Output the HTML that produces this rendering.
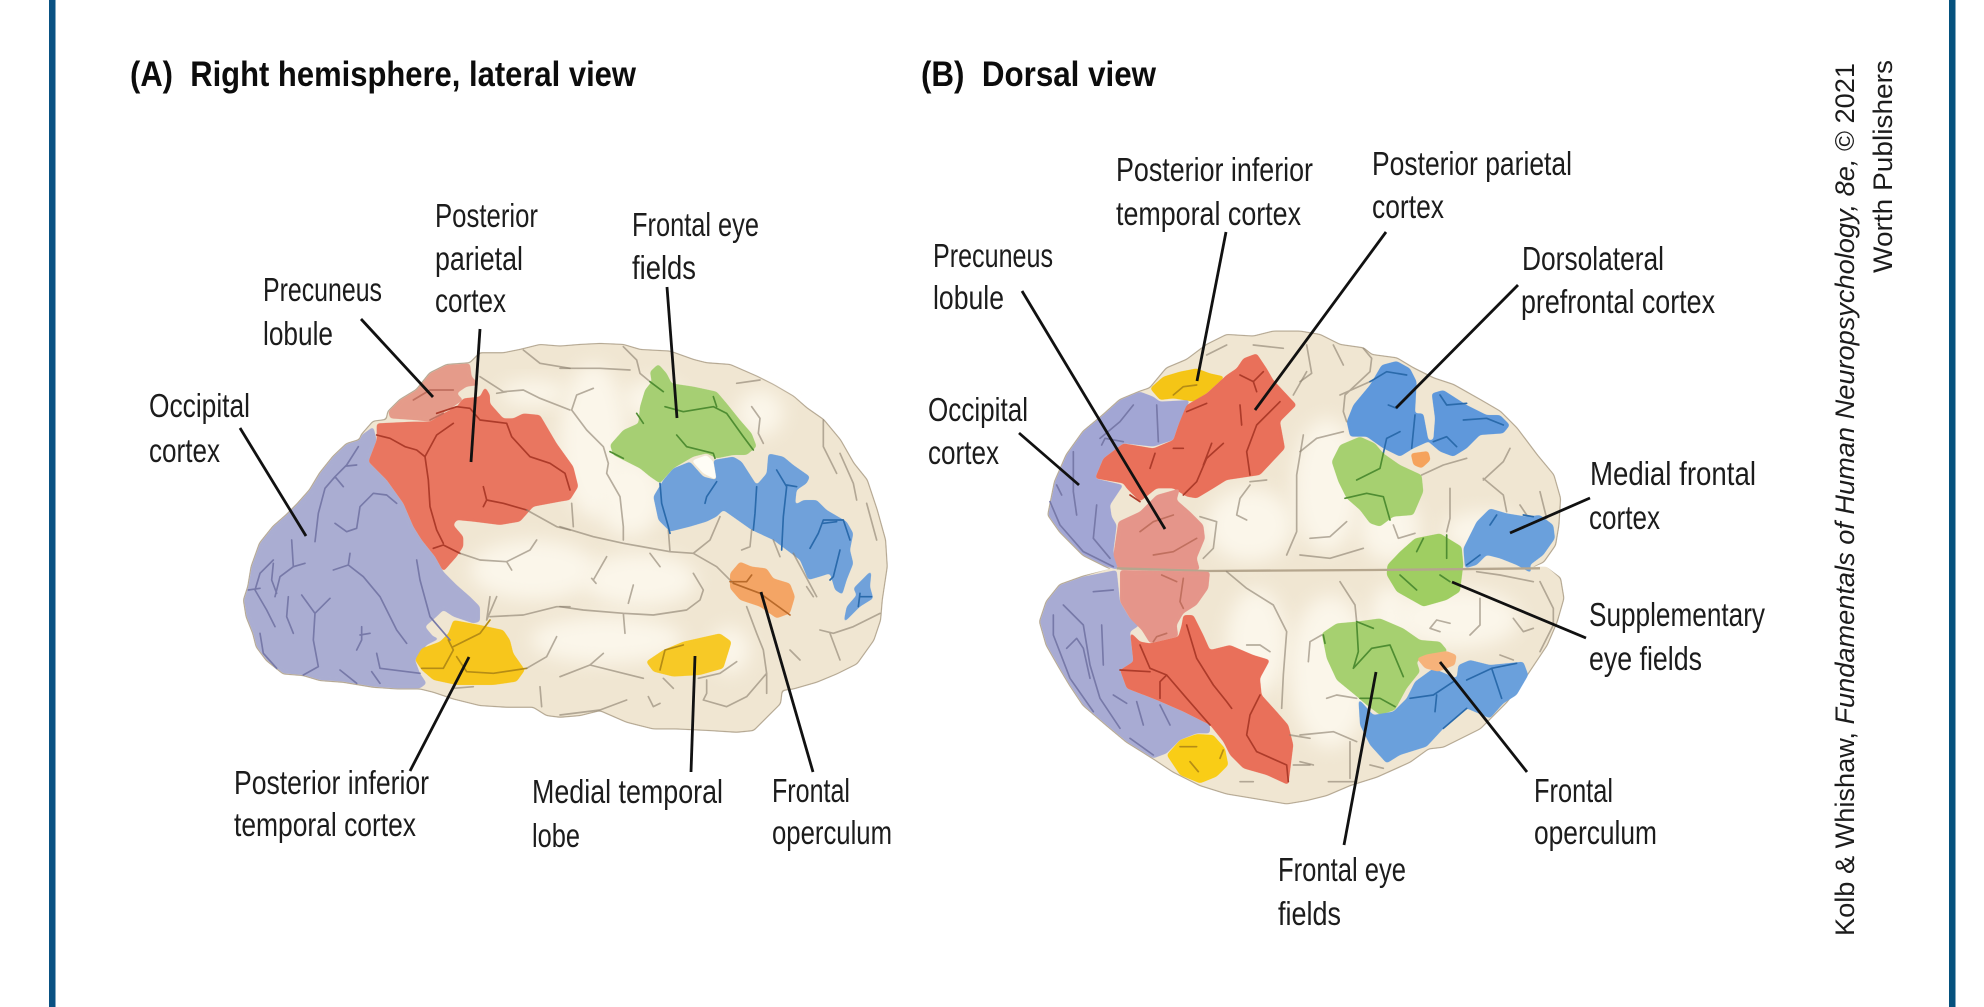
<!DOCTYPE html>
<html><head><meta charset="utf-8"><style>
html,body{margin:0;padding:0;background:#fff;width:1984px;height:1007px;overflow:hidden}
svg{display:block}
.t{font-family:"Liberation Sans Narrow","Liberation Sans",sans-serif;font-size:33px;fill:#1c1c1c}
.h{font-family:"Liberation Sans Narrow","Liberation Sans",sans-serif;font-weight:bold;font-size:35px;fill:#0c0c0c}
.c{font-family:"Liberation Sans",sans-serif;font-size:27px;fill:#1c1c1c}
.l{stroke:#111;stroke-width:2.8;fill:none;stroke-linecap:butt}
polygon{filter:url(#goo)}
ellipse{filter:url(#soft)}
.u{filter:url(#tiny);fill:none;stroke-width:5;stroke-linejoin:round;stroke-linecap:round}
.s{stroke:#8a806e;stroke-opacity:.62}
.sp{stroke:#7779a8}
.sr{stroke:#ad3b29}
.sg{stroke:#4f8d33}
.sb{stroke:#2c6bab}
.sy{stroke:#b58c12}
.so{stroke:#b96a2c}
.sk{stroke:#c06f5e}
</style></head><body>
<svg width="1984" height="1007" viewBox="0 0 1984 1007" xmlns="http://www.w3.org/2000/svg">
<defs>
<filter id="goo" x="-10%" y="-10%" width="120%" height="120%"><feGaussianBlur stdDeviation="4.5"/><feColorMatrix type="matrix" values="1 0 0 0 0 0 1 0 0 0 0 0 1 0 0 0 0 0 7 -3"/></filter>
<filter id="soft" x="-40%" y="-40%" width="180%" height="180%"><feGaussianBlur stdDeviation="28"/></filter>
<filter id="tiny" filterUnits="userSpaceOnUse" x="-200" y="-200" width="2500" height="2000"><feGaussianBlur stdDeviation="1.1"/></filter>
</defs>
<rect width="1984" height="1007" fill="#fff"/>
<rect x="49" y="0" width="6.5" height="1007" fill="#0a5283"/>
<rect x="1949" y="0" width="6.5" height="1007" fill="#05527e"/>

<!-- ============ Brain A ============ -->
<g transform="translate(240,340) scale(.33333)">
<polygon fill="#b5a893" stroke="#b5a893" stroke-width="7" points="720,40 790,40 840,30 900,15 960,20 1020,15 1080,12 1150,15 1200,30 1290,35 1360,60 1400,70 1470,75 1550,110 1600,135 1660,170 1700,205 1750,240 1800,300 1840,370 1880,420 1910,510 1935,600 1940,680 1925,780 1920,840 1900,900 1850,970 1790,1000 1730,1025 1660,1045 1625,1050 1620,1090 1570,1140 1540,1170 1490,1175 1410,1170 1310,1165 1240,1165 1160,1145 1080,1110 1020,1125 960,1130 920,1125 880,1100 800,1100 720,1095 640,1075 580,1055 540,1045 470,1045 400,1040 310,1025 240,1020 190,1005 130,1000 80,960 50,920 40,880 20,830 12,780 25,740 35,680 60,610 100,560 140,525 170,495 210,450 240,400 280,350 320,312 360,300 365,285 400,245 440,240 445,215 480,180 530,150 570,100 620,75 690,70"/>
<polygon fill="#f0e6d2" points="720,40 790,40 840,30 900,15 960,20 1020,15 1080,12 1150,15 1200,30 1290,35 1360,60 1400,70 1470,75 1550,110 1600,135 1660,170 1700,205 1750,240 1800,300 1840,370 1880,420 1910,510 1935,600 1940,680 1925,780 1920,840 1900,900 1850,970 1790,1000 1730,1025 1660,1045 1625,1050 1620,1090 1570,1140 1540,1170 1490,1175 1410,1170 1310,1165 1240,1165 1160,1145 1080,1110 1020,1125 960,1130 920,1125 880,1100 800,1100 720,1095 640,1075 580,1055 540,1045 470,1045 400,1040 310,1025 240,1020 190,1005 130,1000 80,960 50,920 40,880 20,830 12,780 25,740 35,680 60,610 100,560 140,525 170,495 210,450 240,400 280,350 320,312 360,300 365,285 400,245 440,240 445,215 480,180 530,150 570,100 620,75 690,70"/>
<g fill="#fbf6ea">
<ellipse cx="880" cy="690" rx="190" ry="90"/>
<ellipse cx="1200" cy="720" rx="170" ry="80"/>
<ellipse cx="1100" cy="900" rx="230" ry="70"/>
<ellipse cx="1060" cy="300" rx="100" ry="230"/>
<ellipse cx="1170" cy="470" rx="100" ry="120"/>
<ellipse cx="1470" cy="930" rx="60" ry="70"/>
<ellipse cx="1560" cy="220" rx="70" ry="70"/>
<ellipse cx="1240" cy="180" rx="90" ry="60"/>
<ellipse cx="880" cy="160" rx="100" ry="40"/>
</g>
<!-- purple -->
<polygon fill="#aaadd2" points="400,260 365,285 360,300 320,312 280,350 240,400 210,450 170,495 140,525 100,560 60,610 35,680 25,740 12,780 20,830 40,880 50,920 80,960 130,1000 190,1005 240,1020 310,1025 400,1040 470,1045 540,1045 560,1030 540,1000 525,960 560,915 600,895 580,890 555,860 590,830 610,810 640,830 700,850 720,845 720,800 690,770 650,735 610,695 585,650 545,600 520,560 490,490 440,420 400,380 385,365 410,300"/>
<!-- pink -->
<polygon fill="#e59b8a" points="445,215 480,180 530,150 570,100 620,75 690,70 695,110 720,135 680,140 650,160 670,180 640,200 600,225 570,245 520,240 450,235"/>
<!-- red -->
<polygon fill="#e97660" points="410,250 520,245 570,245 610,220 650,200 670,175 720,170 735,140 750,165 750,190 790,235 820,235 850,220 900,225 950,310 1000,380 1015,440 990,480 960,485 880,500 840,545 780,555 700,545 650,540 640,555 670,590 670,620 650,650 610,695 585,650 545,600 520,560 490,490 440,420 400,380 385,365 410,300"/>
<!-- yellow 1 -->
<polygon fill="#f7c61d" points="640,840 720,855 790,870 810,900 820,940 855,990 830,1025 760,1035 650,1035 580,1020 545,990 525,960 545,925 600,905 625,880"/>
<path class="u sp" d="M355,320 320,375 285,410 255,445 235,520 225,605 M285,410 310,440 M320,378 350,375 M155,600 160,680 120,710 105,770 M100,660 60,700 45,750 80,810 105,860 M100,670 95,720 110,760 M195,670 160,680 M25,750 60,745 M285,550 320,575 350,565 360,500 400,460 440,465 470,490 M280,690 325,675 330,640 M325,675 370,710 420,770 470,870 500,910 M185,765 225,820 270,775 M225,820 220,900 235,980 190,1005 M145,770 140,830 160,880 M60,880 70,940 110,985 M365,860 365,900 350,930 M360,885 390,880 M410,940 420,985 540,1000 M300,990 350,1030 M395,995 420,1030 M530,660 540,720 570,830 630,900"/>
<path class="u sr" d="M410,285 450,295 495,320 530,330 555,350 565,420 570,500 590,570 610,610 M555,350 590,285 640,250 M590,220 650,200 690,205 720,240 800,250 815,290 870,350 930,370 975,400 990,450 M730,440 740,480 790,490 860,510 M740,480 730,500 M580,625 610,615 660,640"/>
<path class="u s" d="M660,640 720,660 800,665 870,630 890,600 M800,665 815,690 M860,510 950,560 990,570 M720,110 790,155 850,150 900,175 990,210 M800,155 770,160 M850,30 900,70 990,85 M750,770 740,840 770,770 M750,830 850,825 950,800 990,800 M900,1040 905,1100 M640,1045 700,1040"/>
<path class="u sk" d="M520,180 570,150 640,150 M570,240 610,220"/>
<path class="u sy" d="M625,900 640,930 610,985 545,985 M640,920 720,880 750,840 M650,950 680,995 760,1000 860,985"/>
<path class="u s" d="M860,985 920,950 950,890"/>
<g transform="translate(960,0)">
<polygon fill="#a6cf73" points="150,315 190,270 235,250 240,200 255,150 275,125 270,95 295,72 320,100 335,130 400,140 470,155 500,190 540,240 575,280 590,320 560,345 520,345 470,355 440,340 400,350 340,385 300,430 270,410 240,385 190,360 160,345"/>
<polygon fill="#fffdf6" points="395,362 440,345 460,365 470,420 430,400"/>
<polygon fill="#6fa1da" points="280,470 310,420 340,385 390,365 430,410 470,420 460,360 520,350 545,365 590,435 620,400 625,340 670,350 700,375 750,410 740,430 710,450 705,495 730,480 770,480 800,510 860,545 880,580 870,630 880,670 860,720 845,770 865,775 825,750 810,700 780,710 745,720 720,660 680,630 640,600 575,570 490,510 470,530 440,545 390,560 330,575 295,540"/>
<polygon fill="#6fa1da" points="935,690 930,740 940,775 900,800 850,850 860,800 890,765 880,745"/>
<polygon fill="#f4a565" points="510,700 540,665 575,680 620,685 640,715 690,730 705,770 690,820 650,835 600,800 540,780 510,745"/>
<polygon fill="#f7c925" points="258,965 310,930 370,905 480,880 515,905 490,985 420,1005 340,1010 280,995"/>
<path class="u s" d="M0,85 120,85 210,90 M190,20 230,60 240,100 270,125 M100,145 50,165 35,210 80,270 130,320 145,370 140,400 180,470 190,560 190,600 M35,490 40,560 M0,560 100,590 190,610 330,635 400,640 450,600 480,530 M330,635 325,570 M270,640 300,680 M400,640 470,680 520,730 M560,800 590,880 610,930 620,1000 620,1060 M0,800 70,810 190,820 280,825 380,810 420,780 430,750 400,700 M190,820 195,880 M205,790 220,735 M100,720 140,650 M95,715 108,730 M0,1010 90,975 130,940 M90,975 250,1015 M310,1015 340,1045 M440,1020 440,1060 430,1080 500,1100 560,1070 620,1000 M265,1070 280,1100 300,1090 M0,1125 120,1110 200,1080 M415,1015 480,1000 530,965 M575,200 600,235 595,280 610,310 M530,130 600,120 M790,240 790,320 830,400 M840,340 880,430 890,480 M920,490 950,600 M960,820 880,860 820,880 780,870 M810,880 840,960 M690,930 720,960 M760,770 740,740 M575,570 570,620 545,630 M640,600 660,650 M700,640 770,770"/>
<path class="u sg" d="M230,220 250,250 M270,125 310,155 M315,200 370,215 460,200 500,220 550,290 580,330 M350,285 380,320 460,340 465,355 M150,335 190,355 M460,170 470,200"/>
<path class="u sb" d="M300,430 305,490 325,560 330,580 M470,425 440,470 435,490 M590,440 585,520 580,570 M650,390 680,440 670,530 665,630 M680,435 710,440 M750,625 775,580 790,540 850,540 870,600 M790,550 830,545 M840,630 820,710 810,720 M900,760 895,800 M900,770 935,770"/>
<path class="u so" d="M510,725 560,725 575,705 M520,730 600,760 690,825"/>
<path class="u sy" d="M300,990 315,930 370,915"/>
</g>
</g>

<!-- ============ Brain B ============ -->
<g transform="translate(1040,325) scale(.33333)">
<polygon fill="#b5a893" stroke="#b5a893" stroke-width="7" points="25,570 45,470 80,390 130,320 190,270 240,225 300,200 330,190 380,130 440,105 500,60 560,30 640,35 700,20 780,20 840,30 900,60 970,70 995,90 1070,100 1120,130 1180,160 1240,180 1320,225 1380,260 1430,310 1490,390 1540,450 1560,520 1555,600 1545,660 1510,710 1440,740 1000,740 500,740 240,740 200,725 130,690 60,620"/>
<polygon fill="#b5a893" stroke="#b5a893" stroke-width="7" points="230,730 130,755 60,780 20,830 0,890 20,960 60,1030 90,1080 130,1140 200,1200 260,1250 340,1300 400,1340 480,1380 560,1405 680,1425 740,1435 800,1425 860,1410 930,1380 1010,1355 1110,1310 1165,1270 1210,1265 1320,1210 1400,1130 1460,1050 1520,960 1550,890 1570,820 1560,760 1520,730"/>
<polygon fill="#f0e6d2" points="25,570 45,470 80,390 130,320 190,270 240,225 300,200 330,190 380,130 440,105 500,60 560,30 640,35 700,20 780,20 840,30 900,60 970,70 995,90 1070,100 1120,130 1180,160 1240,180 1320,225 1380,260 1430,310 1490,390 1540,450 1560,520 1555,600 1545,660 1510,710 1440,745 1000,745 500,745 240,745 200,725 130,690 60,620"/>
<polygon fill="#f0e6d2" points="230,725 130,755 60,780 20,830 0,890 20,960 60,1030 90,1080 130,1140 200,1200 260,1250 340,1300 400,1340 480,1380 560,1405 680,1425 740,1435 800,1425 860,1410 930,1380 1010,1355 1110,1310 1165,1270 1210,1265 1320,1210 1400,1130 1460,1050 1520,960 1550,890 1570,820 1560,760 1520,725"/>
<g fill="#fbf6ea">
<ellipse cx="630" cy="600" rx="130" ry="110"/>
<ellipse cx="860" cy="480" rx="100" ry="200"/>
<ellipse cx="1050" cy="610" rx="90" ry="100"/>
<ellipse cx="1330" cy="620" rx="120" ry="60"/>
<ellipse cx="650" cy="950" rx="90" ry="160"/>
<ellipse cx="870" cy="1040" rx="120" ry="230"/>
<ellipse cx="1250" cy="880" rx="190" ry="90"/>
<ellipse cx="1050" cy="880" rx="60" ry="100"/>
</g>
<polygon fill="#f5c513" points="330,190 370,155 420,140 470,130 510,145 555,155 500,205 460,230 400,220 360,225"/>
<polygon fill="#a2a6d4" points="25,570 45,470 80,390 130,320 190,270 240,225 300,200 340,215 360,230 450,225 415,300 400,345 340,365 250,355 190,400 165,460 250,480 210,540 215,575 230,600 220,680 235,735 200,725 130,690 60,620"/>
<polygon fill="#e9705a" points="610,100 650,85 680,130 700,165 770,240 720,290 735,370 660,450 560,465 520,490 470,520 440,515 400,490 350,490 300,530 260,490 250,475 165,460 190,400 250,355 340,370 400,345 415,300 440,240 500,205 560,150 590,130"/>
<polygon fill="#e5958a" points="235,590 300,560 350,510 420,490 410,525 450,560 490,600 495,640 470,700 480,735 235,735 220,690"/>
<path class="u s" d="M790,330 770,450 770,540 770,620 740,690 M630,480 600,520 590,570 620,585 M680,465 630,470 M500,90 560,60 M640,60 730,70 M480,575 530,590 520,670 490,700 M760,210 800,140"/>
<path class="u sr" d="M600,150 640,170 650,200 M640,170 670,140 M600,240 605,300 M500,235 440,260 M720,230 650,300 620,380 630,450 M550,355 500,400 470,470 430,510 M515,355 490,420 M345,385 330,430 M400,370 430,370 M270,510 300,530"/>
<path class="u sp" d="M280,240 240,290 180,340 M350,240 355,350 M30,530 60,600 130,680 220,725 M100,380 100,500 110,570 M50,480 65,510 M170,540 160,640 210,700 M250,350 195,340 185,360"/>
<path class="u sk" d="M300,620 340,590 400,570 M340,690 400,680 470,640"/>
<path class="u sy" d="M400,210 430,185 470,180"/>
<g transform="translate(780,0)">
<polygon fill="#5f98db" points="140,290 160,240 210,180 245,120 290,108 330,130 350,170 345,265 370,265 385,345 400,345 405,280 395,205 430,195 500,240 560,270 600,270 630,300 610,325 540,330 500,370 460,395 420,380 385,350 340,370 300,395 250,370 200,335 150,335"/>
<polygon fill="#f5a35c" points="332,385 385,378 392,405 365,430 340,420"/>
<polygon fill="#a6d070" points="95,410 120,360 180,335 225,355 250,385 300,420 365,450 370,500 340,570 280,575 240,605 210,595 180,555 140,520 115,470"/>
<polygon fill="#9fce62" points="262,720 300,680 345,640 420,625 485,665 490,720 480,800 440,825 370,845 290,800 260,750"/>
<polygon fill="#6ba0dc" points="490,670 530,590 570,550 620,565 680,575 720,570 760,600 765,640 730,690 690,720 695,745 650,720 600,700 560,690 530,720 495,730"/>
<path class="u s" d="M120,210 210,170 M20,60 35,145 0,170 M100,60 130,120 M190,70 215,100 210,140 135,210 130,260 140,290 M0,380 50,340 130,320 M550,465 610,410 630,370 M550,460 610,510 620,560 M450,490 450,580 440,620 M365,450 430,420 500,400 M280,600 295,640 345,625 M30,640 90,635 140,590 M0,690 90,700 190,670 M720,500 740,580 M660,540 680,570"/>
<path class="u sb" d="M210,170 260,140 320,150 M265,240 290,250 M250,385 260,340 300,320 M345,270 335,370 M420,210 440,240 500,235 M490,285 560,280 610,300 M400,350 440,335 470,365 M590,570 570,600 M670,570 700,575 M500,720 540,690"/>
<path class="u sg" d="M170,465 240,430 250,385 M135,520 200,505 250,515 270,585 M350,680 370,640 M440,630 440,700"/>
</g>
<!-- midline -->
<path d="M230,730 500,738 1000,735 1500,730" fill="none" stroke="#b5a68e" stroke-width="7" filter="url(#tiny)"/>
<g transform="translate(0,720)">
<polygon fill="#a8abd3" points="230,15 130,35 60,60 20,110 0,170 20,240 60,310 90,360 130,420 200,480 260,530 340,580 380,565 420,525 470,505 510,505 510,480 430,440 350,405 260,370 240,315 280,290 270,200 300,180 270,160 240,110"/>
<polygon fill="#e5958a" points="240,15 510,20 505,70 470,120 430,145 410,180 415,215 330,235 305,195 270,160 240,110"/>
<polygon fill="#e9705a" points="430,150 460,150 490,210 510,255 570,240 640,270 690,285 660,340 665,390 710,440 745,480 760,540 745,660 680,630 610,610 570,570 550,530 510,480 430,440 350,405 260,370 240,315 280,290 270,200 300,230 330,235 415,215 425,180"/>
<polygon fill="#f9cd13" points="420,525 470,507 520,510 555,550 565,600 530,635 480,655 420,630 380,570"/>
<path class="u s" d="M560,20 620,70 700,120 740,200 730,330 725,430 M620,240 660,240 690,260 M750,510 810,520 M600,650 640,650 M760,600 810,600"/>
<path class="u sp" d="M160,80 220,75 M70,120 130,180 150,300 180,400 240,490 M40,150 40,210 90,340 160,440 M80,250 110,220 130,250 150,340 M185,180 190,300 M220,390 260,415 M290,410 310,480 M360,420 390,480 M270,520 340,570"/>
<path class="u sk" d="M340,230 350,215 380,205 M365,30 410,50 M430,40 420,110 430,130"/>
<path class="u sy" d="M420,545 470,545 M450,590 475,620 M540,580 550,555"/>
<path class="u sr" d="M300,240 330,310 380,330 440,400 510,480 M380,330 360,350 360,400 M440,180 470,280 520,360 560,410 575,430 M660,390 630,450 620,510 650,560 740,600 745,650 M240,315 330,320"/>
<g transform="translate(780,0)">
<polygon fill="#a6d070" points="65,205 110,175 170,170 240,160 310,190 360,225 420,230 445,260 380,270 350,290 360,320 320,370 285,435 240,450 200,420 165,390 110,345 80,280"/>
<polygon fill="#6ba0dc" points="175,400 220,450 280,440 320,400 345,350 400,310 470,340 475,300 510,285 570,300 670,290 685,330 650,390 610,415 570,460 500,430 440,480 380,545 300,570 260,595 210,540 180,480"/>
<polygon fill="#f6b27a" points="350,280 380,268 440,258 470,270 465,300 415,320 375,310"/>
<path class="u s" d="M120,50 165,120 170,170 M25,290 30,230 65,210 M420,200 390,190 410,165 450,175 M80,400 110,390 170,400 M0,510 100,500 170,530 M150,530 150,640 M85,650 170,650 M540,100 540,180 510,210 M640,160 670,200 700,190 M720,50 760,130 760,180 720,260 M600,270 640,285 M530,20 600,30 700,50 M0,590 40,600 M210,600 250,610"/>
<path class="u sg" d="M170,175 175,260 160,310 215,250 270,240 310,335 M170,170 220,190 M180,400 240,400 285,425 M70,210 75,235 M300,30 350,75 M420,30 450,50"/>
<path class="u sb" d="M330,400 400,390 460,350 M410,390 405,440 M500,345 575,310 605,400 M430,490 500,430 M575,310 650,295"/>
</g>
</g>
</g>

<!-- Leader lines -->
<line class="l" x1="361" y1="319" x2="433" y2="397"/>
<line class="l" x1="480" y1="329" x2="471" y2="462"/>
<line class="l" x1="667" y1="287" x2="677" y2="418"/>
<line class="l" x1="240" y1="428" x2="306" y2="536"/>
<line class="l" x1="469" y1="657" x2="410" y2="771"/>
<line class="l" x1="695" y1="656" x2="691" y2="772"/>
<line class="l" x1="761" y1="592" x2="813" y2="772"/>
<line class="l" x1="1226" y1="232" x2="1197" y2="381"/>
<line class="l" x1="1386" y1="232" x2="1255" y2="410"/>
<line class="l" x1="1022" y1="291" x2="1165" y2="529"/>
<line class="l" x1="1518" y1="285" x2="1396" y2="408"/>
<line class="l" x1="1019" y1="433" x2="1079" y2="485"/>
<line class="l" x1="1590" y1="498" x2="1510" y2="533"/>
<line class="l" x1="1586" y1="638" x2="1452" y2="582"/>
<line class="l" x1="1527" y1="772" x2="1440" y2="662"/>
<line class="l" x1="1344" y1="845" x2="1376" y2="672"/>

<!-- Headings -->
<text class="h" x="130" y="86" textLength="506" lengthAdjust="spacingAndGlyphs" xml:space="preserve">(A)  Right hemisphere, lateral view</text>
<text class="h" x="921" y="86" textLength="235" lengthAdjust="spacingAndGlyphs" xml:space="preserve">(B)  Dorsal view</text>

<!-- A labels -->
<text class="t" x="435" y="227" textLength="103" lengthAdjust="spacingAndGlyphs">Posterior</text>
<text class="t" x="435" y="270" textLength="88" lengthAdjust="spacingAndGlyphs">parietal</text>
<text class="t" x="435" y="312" textLength="71" lengthAdjust="spacingAndGlyphs">cortex</text>
<text class="t" x="632" y="236" textLength="127" lengthAdjust="spacingAndGlyphs">Frontal eye</text>
<text class="t" x="632" y="279" textLength="64" lengthAdjust="spacingAndGlyphs">fields</text>
<text class="t" x="263" y="301" textLength="119" lengthAdjust="spacingAndGlyphs">Precuneus</text>
<text class="t" x="263" y="345" textLength="70" lengthAdjust="spacingAndGlyphs">lobule</text>
<text class="t" x="149" y="417" textLength="101" lengthAdjust="spacingAndGlyphs">Occipital</text>
<text class="t" x="149" y="462" textLength="71" lengthAdjust="spacingAndGlyphs">cortex</text>
<text class="t" x="234" y="794" textLength="195" lengthAdjust="spacingAndGlyphs">Posterior inferior</text>
<text class="t" x="234" y="836" textLength="182" lengthAdjust="spacingAndGlyphs">temporal cortex</text>
<text class="t" x="532" y="803" textLength="191" lengthAdjust="spacingAndGlyphs">Medial temporal</text>
<text class="t" x="532" y="847" textLength="48" lengthAdjust="spacingAndGlyphs">lobe</text>
<text class="t" x="772" y="802" textLength="78" lengthAdjust="spacingAndGlyphs">Frontal</text>
<text class="t" x="772" y="844" textLength="120" lengthAdjust="spacingAndGlyphs">operculum</text>

<!-- B labels -->
<text class="t" x="1116" y="181" textLength="197" lengthAdjust="spacingAndGlyphs">Posterior inferior</text>
<text class="t" x="1116" y="225" textLength="185" lengthAdjust="spacingAndGlyphs">temporal cortex</text>
<text class="t" x="1372" y="175" textLength="200" lengthAdjust="spacingAndGlyphs">Posterior parietal</text>
<text class="t" x="1372" y="218" textLength="72" lengthAdjust="spacingAndGlyphs">cortex</text>
<text class="t" x="933" y="267" textLength="120" lengthAdjust="spacingAndGlyphs">Precuneus</text>
<text class="t" x="933" y="309" textLength="71" lengthAdjust="spacingAndGlyphs">lobule</text>
<text class="t" x="1522" y="270" textLength="142" lengthAdjust="spacingAndGlyphs">Dorsolateral</text>
<text class="t" x="1521" y="313" textLength="194" lengthAdjust="spacingAndGlyphs">prefrontal cortex</text>
<text class="t" x="928" y="421" textLength="100" lengthAdjust="spacingAndGlyphs">Occipital</text>
<text class="t" x="928" y="464" textLength="71" lengthAdjust="spacingAndGlyphs">cortex</text>
<text class="t" x="1590" y="485" textLength="166" lengthAdjust="spacingAndGlyphs">Medial frontal</text>
<text class="t" x="1589" y="529" textLength="71" lengthAdjust="spacingAndGlyphs">cortex</text>
<text class="t" x="1589" y="626" textLength="176" lengthAdjust="spacingAndGlyphs">Supplementary</text>
<text class="t" x="1589" y="670" textLength="113" lengthAdjust="spacingAndGlyphs">eye fields</text>
<text class="t" x="1534" y="802" textLength="79" lengthAdjust="spacingAndGlyphs">Frontal</text>
<text class="t" x="1534" y="844" textLength="123" lengthAdjust="spacingAndGlyphs">operculum</text>
<text class="t" x="1278" y="881" textLength="128" lengthAdjust="spacingAndGlyphs">Frontal eye</text>
<text class="t" x="1278" y="925" textLength="63" lengthAdjust="spacingAndGlyphs">fields</text>

<!-- Credit -->
<text class="c" transform="translate(1854,936) rotate(-90)" textLength="873" lengthAdjust="spacingAndGlyphs">Kolb &amp; Whishaw, <tspan font-style="italic">Fundamentals of Human Neuropsychology, 8e,</tspan> © 2021</text>
<text class="c" transform="translate(1892,273) rotate(-90)" textLength="213" lengthAdjust="spacingAndGlyphs">Worth Publishers</text>
</svg>
</body></html>
